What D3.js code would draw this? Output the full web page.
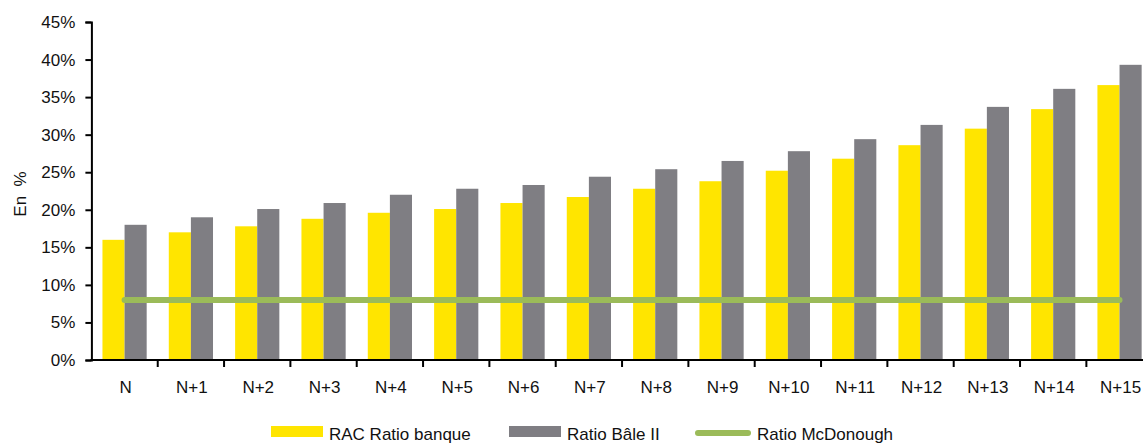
<!DOCTYPE html>
<html>
<head>
<meta charset="utf-8">
<script src="https://cdn.jsdelivr.net/npm/d3@7"></script>
<style>
  html, body { margin: 0; padding: 0; background: #fff; overflow: hidden; }
  svg { display: block; font-family: "Liberation Sans", Arial, sans-serif; }
</style>
</head>
<body>
<svg id="chart" width="1143" height="445"></svg>
<script>
// Categories and series (ratios in %)
const categories = ["N", "N+1", "N+2", "N+3", "N+4", "N+5", "N+6", "N+7",
                    "N+8", "N+9", "N+10", "N+11", "N+12", "N+13", "N+14", "N+15"];
const ratioBanque = [16, 17, 17.8, 18.8, 19.6, 20.1, 20.9, 21.7,
                     22.8, 23.8, 25.2, 26.8, 28.6, 30.8, 33.4, 36.6];
const ratioBale2 = [18, 19, 20.1, 20.9, 22, 22.8, 23.3, 24.4,
                    25.4, 26.5, 27.8, 29.4, 31.3, 33.7, 36.1, 39.3];
const ratioMcDonough = [8, 8, 8, 8, 8, 8, 8, 8, 8, 8, 8, 8, 8, 8, 8, 8];
const yTicks = [0, 5, 10, 15, 20, 25, 30, 35, 40, 45];
const seriesNames = ["RAC Ratio banque", "Ratio Bâle II", "Ratio McDonough"];

const colors = { banque: "#FFE500", bale: "#7F7E83", mcd: "#9BBB59" };

const svg = d3.select("#chart");

const x = d3.scaleBand()
  .domain(categories)
  .range([91.4, 1152.7])
  .paddingInner(1 / 3)
  .paddingOuter(1 / 6);

const y = d3.scaleLinear().domain([0, 45]).range([360, 22]);

const half = x.bandwidth() / 2;

// Bars
svg.append("g").selectAll("rect")
  .data(categories)
  .join("rect")
  .attr("x", d => x(d))
  .attr("y", (d, i) => y(ratioBanque[i]))
  .attr("width", half)
  .attr("height", (d, i) => y(0) - y(ratioBanque[i]))
  .attr("fill", colors.banque);

svg.append("g").selectAll("rect")
  .data(categories)
  .join("rect")
  .attr("x", d => x(d) + half)
  .attr("y", (d, i) => y(ratioBale2[i]))
  .attr("width", half)
  .attr("height", (d, i) => y(0) - y(ratioBale2[i]))
  .attr("fill", colors.bale);

// McDonough ratio line
const line = d3.line()
  .x((d, i) => x(categories[i]) + half)
  .y(d => y(d));

svg.append("path")
  .datum(ratioMcDonough)
  .attr("d", line)
  .attr("fill", "none")
  .attr("stroke", colors.mcd)
  .attr("stroke-width", 6)
  .attr("stroke-linecap", "round");

// Y axis
const yAxis = d3.axisLeft(y)
  .tickValues(yTicks)
  .tickFormat(d => d + "%")
  .tickSize(6)
  .tickPadding(10);

const gy = svg.append("g")
  .attr("transform", "translate(91.4,0)")
  .call(yAxis);
gy.select(".domain").attr("stroke", "#000").attr("stroke-width", 2);
gy.selectAll(".tick line").attr("stroke", "#000").attr("stroke-width", 2);
gy.selectAll(".tick text")
  .attr("font-size", 17)
  .attr("fill", "#111")
  .attr("font-family", "Liberation Sans, Arial, sans-serif");

// X axis: labels centred on categories, ticks on category boundaries
const xAxis = d3.axisBottom(x).tickSize(0).tickPadding(0);
const gx = svg.append("g")
  .attr("transform", "translate(0,360)")
  .call(xAxis);
gx.select(".domain").remove();
gx.selectAll(".tick text")
  .attr("font-size", 17)
  .attr("fill", "#111")
  .attr("dy", null)
  .attr("y", 33)
  .attr("dx", 1)
  .attr("font-family", "Liberation Sans, Arial, sans-serif");

svg.append("line")
  .attr("x1", 90.4).attr("x2", 1143)
  .attr("y1", 360).attr("y2", 360)
  .attr("stroke", "#000").attr("stroke-width", 2);

svg.append("g").selectAll("line")
  .data(categories.slice(1))
  .join("line")
  .attr("x1", d => x(d) - x.step() * x.paddingOuter())
  .attr("x2", d => x(d) - x.step() * x.paddingOuter())
  .attr("y1", 360).attr("y2", 367)
  .attr("stroke", "#000").attr("stroke-width", 2);

// Y axis title
svg.append("text")
  .attr("transform", "translate(26,194) rotate(-90)")
  .attr("text-anchor", "middle")
  .attr("font-size", 17)
  .attr("fill", "#111")
  .attr("xml:space", "preserve")
  .style("white-space", "pre")
  .text("En  %");

// Legend
const legend = svg.append("g");
const lx = [271, 509, 695];
const ly = 426;
legend.append("rect").attr("x", lx[0]).attr("y", ly).attr("width", 52).attr("height", 11).attr("fill", colors.banque);
legend.append("rect").attr("x", lx[1]).attr("y", ly).attr("width", 52).attr("height", 11).attr("fill", colors.bale);
legend.append("line").attr("x1", lx[2] + 3).attr("x2", lx[2] + 53).attr("y1", ly + 7).attr("y2", ly + 7)
  .attr("stroke", colors.mcd).attr("stroke-width", 6).attr("stroke-linecap", "round");
legend.selectAll("text")
  .data(seriesNames)
  .join("text")
  .attr("x", (d, i) => lx[i] + (i === 2 ? 62 : 58))
  .attr("y", ly + 14)
  .attr("font-size", 17)
  .attr("fill", "#111")
  .text(d => d);
</script>
</body>
</html>
